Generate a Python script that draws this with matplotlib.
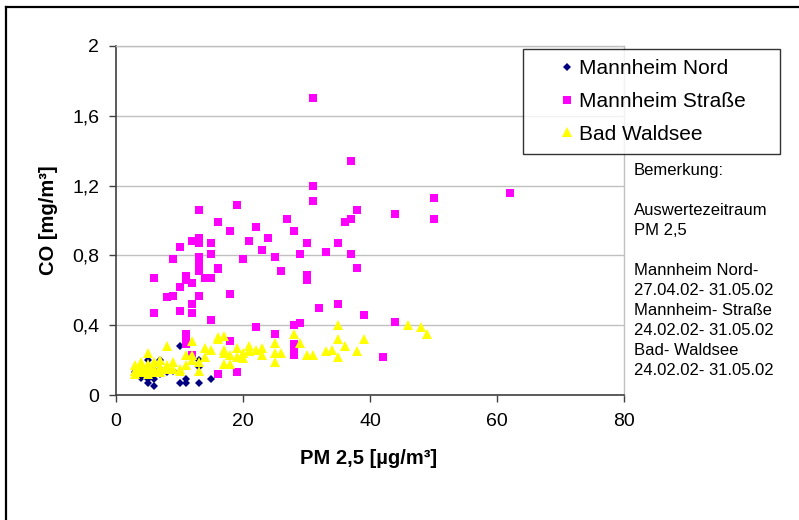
import matplotlib
matplotlib.use("Agg")
import matplotlib.pyplot as plt
from matplotlib.lines import Line2D
from matplotlib.ticker import FuncFormatter

plt.rcParams["font.family"] = ["Liberation Sans", "DejaVu Sans"]

# ── data ──────────────────────────────────────────────────────────────
nord_x = [10, 10, 11, 11, 13, 15, 6, 5, 4, 6, 7, 5, 7, 9, 13, 13,
          3, 4, 5, 6, 6, 7, 8, 5]
nord_y = [0.28, 0.07, 0.09, 0.07, 0.07, 0.09, 0.05, 0.07, 0.10, 0.09, 0.12,
          0.20, 0.20, 0.14, 0.16, 0.20, 0.13, 0.12, 0.11, 0.12, 0.17, 0.15,
          0.13, 0.09]

strasse_x = [31, 37, 31, 31, 62, 50, 50, 44, 38, 37, 36, 27, 28, 24, 22, 21,
             23, 25, 26, 30, 29, 30, 30, 33, 35, 37, 38, 32, 35, 39, 44, 42,
             28, 29, 28, 28, 28, 25, 22, 20, 19, 18, 18, 18, 19, 16, 16, 16,
             15, 15, 15, 15, 14, 16, 13, 13, 13, 13, 13, 13, 13, 12, 12, 12,
             12, 12, 11, 11, 11, 11, 11, 10, 10, 10, 9, 9, 8, 6, 6]
strasse_y = [1.70, 1.34, 1.20, 1.11, 1.16, 1.13, 1.01, 1.04, 1.06, 1.01, 0.99,
             1.01, 0.94, 0.90, 0.96, 0.88, 0.83, 0.79, 0.71, 0.87, 0.81, 0.69,
             0.66, 0.82, 0.87, 0.81, 0.73, 0.50, 0.52, 0.46, 0.42, 0.22, 0.40,
             0.41, 0.29, 0.26, 0.23, 0.35, 0.39, 0.78, 1.09, 0.94, 0.58, 0.31,
             0.13, 0.99, 0.73, 0.72, 0.87, 0.81, 0.67, 0.43, 0.67, 0.12, 1.06,
             0.90, 0.87, 0.79, 0.75, 0.71, 0.57, 0.88, 0.64, 0.52, 0.47, 0.23,
             0.68, 0.66, 0.35, 0.31, 0.29, 0.85, 0.62, 0.48, 0.78, 0.57, 0.56,
             0.67, 0.47]

waldsee_x = [46, 48, 49, 35, 35, 35, 36, 38, 39, 34, 33, 31, 30, 29, 28, 26,
             25, 25, 25, 23, 23, 22, 21, 21, 20, 20, 19, 19, 18, 18, 17, 17,
             17, 17, 16, 15, 14, 14, 13, 13, 12, 12, 12, 11, 11, 10, 9, 8, 8,
             7, 7, 6, 5, 5, 4, 3, 3, 3, 4, 4, 4, 5, 5, 5, 5, 6, 6, 6, 7, 7,
             8, 9, 10, 16]
waldsee_y = [0.40, 0.39, 0.35, 0.40, 0.32, 0.22, 0.28, 0.25, 0.32, 0.26, 0.25,
             0.23, 0.23, 0.30, 0.35, 0.24, 0.30, 0.24, 0.19, 0.27, 0.23, 0.26,
             0.28, 0.25, 0.24, 0.21, 0.27, 0.22, 0.23, 0.18, 0.34, 0.26, 0.24,
             0.18, 0.33, 0.26, 0.27, 0.22, 0.19, 0.14, 0.31, 0.23, 0.20, 0.23,
             0.17, 0.15, 0.19, 0.28, 0.17, 0.20, 0.16, 0.19, 0.24, 0.18, 0.19,
             0.17, 0.12, 0.14, 0.13, 0.15, 0.16, 0.12, 0.14, 0.15, 0.16, 0.13,
             0.14, 0.15, 0.13, 0.14, 0.15, 0.15, 0.14, 0.32]

x_ticks = [0, 20, 40, 60, 80]
y_ticks = [0, 0.4, 0.8, 1.2, 1.6, 2.0]

note_lines = ["Bemerkung:", "", "Auswertezeitraum", "PM 2,5", "",
              "Mannheim Nord-", "27.04.02- 31.05.02", "Mannheim- Straße",
              "24.02.02- 31.05.02", "Bad- Waldsee", "24.02.02- 31.05.02"]

# ── figure ────────────────────────────────────────────────────────────
W, H = 799, 520
fig = plt.figure(figsize=(W / 100, H / 100), dpi=100)
fig.patch.set_facecolor("white")
ax = fig.add_axes([116 / W, 1 - 395 / H, (624 - 116) / W, (395 - 46) / H])

ax.plot(nord_x, nord_y, linestyle="none", marker="D", markersize=4.2,
        color="#000080", markeredgewidth=0, label="Mannheim Nord", zorder=3)
ax.plot(strasse_x, strasse_y, linestyle="none", marker="s", markersize=5.6,
        color="#FF00FF", markeredgewidth=0, label="Mannheim Straße", zorder=4)
ax.plot(waldsee_x, waldsee_y, linestyle="none", marker="^", markersize=6.6,
        color="#FFFF00", markeredgewidth=0, label="Bad Waldsee", zorder=5)

ax.set_xlim(0, 80)
ax.set_ylim(0, 2)
ax.set_xticks(x_ticks)
ax.set_yticks(y_ticks)
ax.yaxis.set_major_formatter(FuncFormatter(lambda v, p: f"{v:g}".replace(".", ",")))
ax.tick_params(axis="both", direction="out", length=5, width=1, color="#404040",
               labelsize=14, labelcolor="black")
ax.tick_params(axis="x", pad=8)
ax.tick_params(axis="y", pad=7)

ax.grid(axis="y", color="#c0c0c0", linewidth=1)
ax.set_axisbelow(True)
for side in ("left", "bottom"):
    ax.spines[side].set_color("#404040")
    ax.spines[side].set_linewidth(1.2)
for side in ("right", "top"):
    ax.spines[side].set_color("#c0c0c0")
    ax.spines[side].set_linewidth(1)

fig.text(369 / W, 1 - 459 / H, "PM 2,5 [µg/m³]", fontsize=14.5,
         fontweight="bold", ha="center", va="center")
fig.text(48 / W, 1 - 220 / H, "CO [mg/m³]", fontsize=14.5,
         fontweight="bold", ha="center", va="center", rotation=90)

leg = ax.legend(loc="upper left",
                bbox_to_anchor=(523 / W, 1 - 151 / H, (780 - 523) / W, 102 / H),
                bbox_transform=fig.transFigure, mode="expand",
                fontsize=15, frameon=True, fancybox=False, borderaxespad=0,
                borderpad=0.5, labelspacing=0.65, handlelength=3.2,
                handletextpad=-1.0, numpoints=1)
leg.get_frame().set_edgecolor("black")
leg.get_frame().set_linewidth(1)
leg.set_zorder(10)

# note block to the right of the plot, top line "Bemerkung:" at y≈170
fig.text(634 / W, 1 - 163 / H, "\n".join(note_lines), fontsize=12,
         ha="left", va="top", linespacing=1.42)

# outer frame (left and top edges visible in the reference)
fig.add_artist(Line2D([6 / W, 6 / W], [0, 1 - 7 / H], color="black",
                      linewidth=1.6, transform=fig.transFigure))
fig.add_artist(Line2D([6 / W, 1], [1 - 7 / H, 1 - 7 / H], color="black",
                      linewidth=1.6, transform=fig.transFigure))

fig.savefig("out.png", dpi=100)
